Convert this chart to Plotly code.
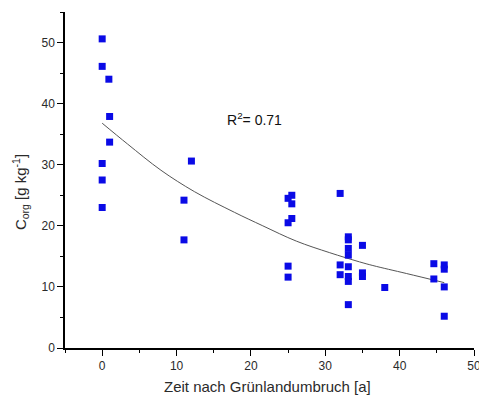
import plotly.graph_objects as go

# Measured data points: time since grassland conversion [a] and C_org [g/kg]
years = [0, 0, 0.9, 1.0, 1.0, 0, 0, 0,
         12.0, 11.0, 11.0,
         25.5, 25.0, 25.5, 25.5, 25.0, 25.0, 25.0,
         32.0, 33.1, 33.1, 33.1, 33.1, 32.0, 33.1, 32.0, 33.1, 33.1, 33.1,
         35.0, 35.0, 35.0,
         38.0,
         44.6, 44.6,
         46.0, 46.0, 46.0, 46.0]
corg = [50.6, 46.1, 44.0, 37.9, 33.7, 30.2, 27.5, 23.0,
        30.6, 24.2, 17.7,
        25.0, 24.5, 23.6, 21.2, 20.5, 13.4, 11.6,
        25.3, 18.2, 17.7, 16.3, 15.2, 13.6, 13.3, 12.0, 11.7, 10.9, 7.1,
        16.8, 12.3, 11.7,
        9.9,
        13.8, 11.3,
        13.6, 12.9, 10.0, 5.2]

# Trend curve
fit_x = [0, 3.4, 7.9, 12.4, 17.8, 21.6, 26.1, 30.6, 34.6, 36.4, 40.9, 46.0]
fit_y = [36.8, 33.4, 29.1, 25.6, 22.2, 20.0, 17.5, 15.6, 14.1, 13.5, 12.2, 10.7]

x_ticks = [0, 10, 20, 30, 40, 50]
y_ticks = [0, 10, 20, 30, 40, 50]

txt = "#2a2a2a"
fnt = "Liberation Sans, Arial, sans-serif"

fig = go.Figure()
fig.add_trace(go.Scatter(x=fit_x, y=fit_y, mode="lines",
                         line=dict(color="#555555", width=1, shape="spline"),
                         hoverinfo="skip", showlegend=False))
fig.add_trace(go.Scatter(x=years, y=corg, mode="markers",
                         marker=dict(symbol="square", size=7, color="#0a0ae6",
                                     line=dict(width=0)),
                         showlegend=False))

axis_common = dict(showline=True, linecolor="black", linewidth=1.5,
                   ticks="outside", ticklen=6, tickwidth=1.2, tickcolor="black",
                   showgrid=False, zeroline=False, ticklabeloverflow="allow",
                   tickfont=dict(family=fnt, size=12, color=txt),
                   minor=dict(ticks="outside", ticklen=3, tickwidth=1.2,
                              tickcolor="black", dtick=5, showgrid=False))

fig.update_xaxes(range=[-5, 50], tickvals=x_ticks, ticktext=[str(v) for v in x_ticks],
                 **axis_common)
fig.update_yaxes(range=[0, 55], tickvals=y_ticks, ticktext=[str(v) for v in y_ticks],
                 **axis_common)

fig.add_annotation(x=20.5, y=37.5, xref="x", yref="y", showarrow=False,
                   text="R<sup>2</sup>= 0.71",
                   font=dict(family=fnt, size=14, color="#111111"))
fig.add_annotation(x=0.496, y=-0.115, xref="paper", yref="paper", showarrow=False,
                   yanchor="middle",
                   text="Zeit nach Grünlandumbruch [a]",
                   font=dict(family=fnt, size=15, color=txt))
fig.add_annotation(x=-0.11, y=0.464, xref="paper", yref="paper", showarrow=False,
                   textangle=-90, xanchor="center", yanchor="middle",
                   text="C<sub>org</sub> [g kg<sup>-1</sup>]",
                   font=dict(family=fnt, size=15, color=txt))

fig.update_layout(width=479, height=396,
                  margin=dict(l=65, r=5, t=12, b=48, autoexpand=False),
                  paper_bgcolor="white", plot_bgcolor="white")

fig.write_html("out.html", config={"displayModeBar": False},
               post_script="document.body.style.margin='0';document.body.style.padding='0';")
